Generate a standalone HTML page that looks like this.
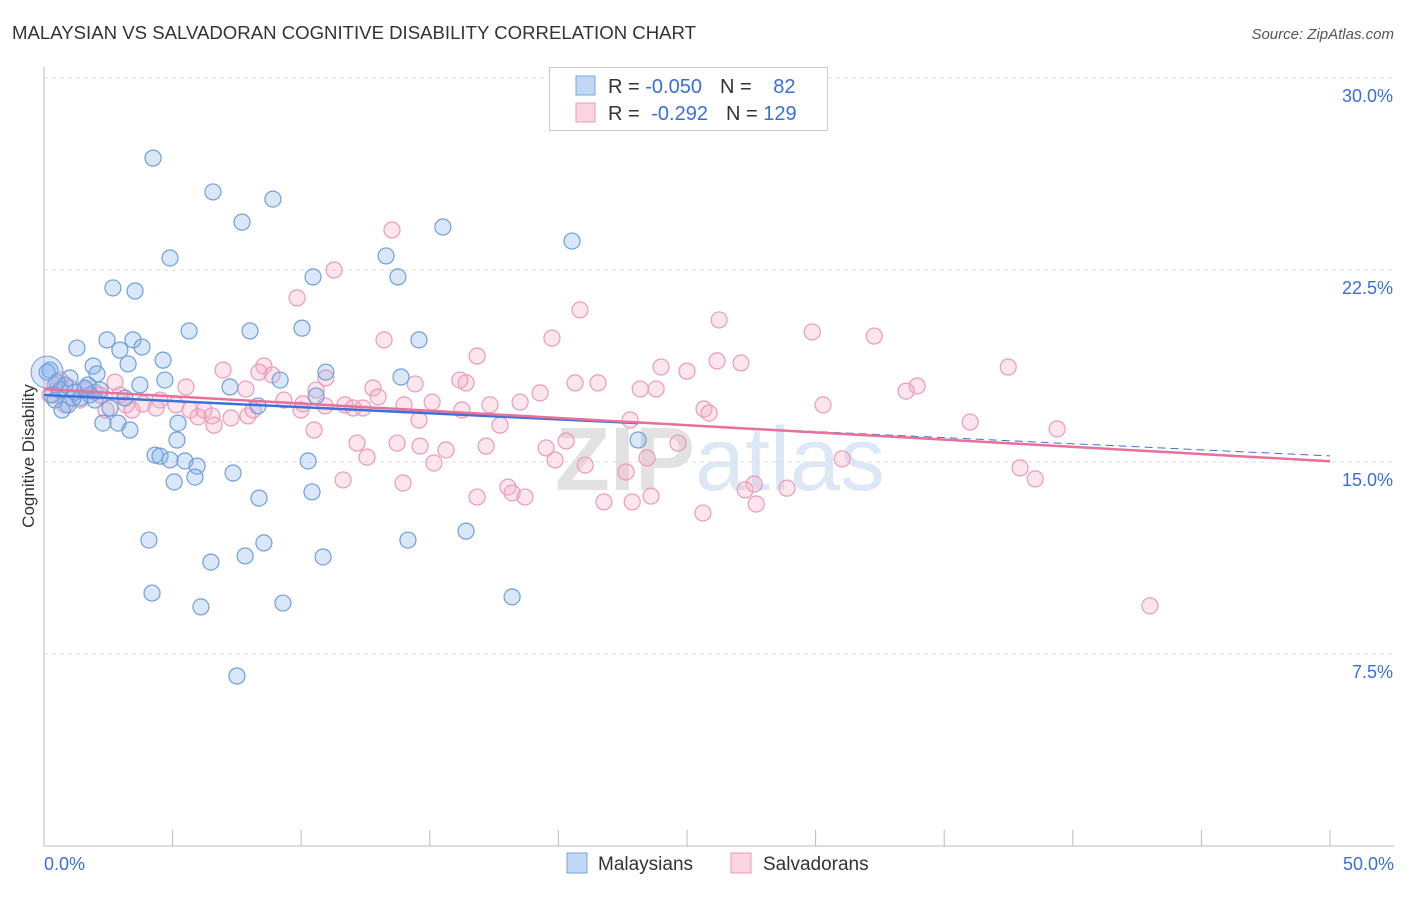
<!DOCTYPE html>
<html><head><meta charset="utf-8">
<style>
body{margin:0;background:#fff;font-family:"Liberation Sans",sans-serif;}
svg text{font-family:"Liberation Sans",sans-serif;}
</style></head>
<body>
<svg id="chart" width="1406" height="892" viewBox="0 0 1406 892">
<text x="12" y="39" font-size="18.6" fill="#333">MALAYSIAN VS SALVADORAN COGNITIVE DISABILITY CORRELATION CHART</text>
<text x="1394" y="39" font-size="15" fill="#555" font-style="italic" text-anchor="end">Source: ZipAtlas.com</text>
<text x="720" y="490" font-size="90" fill="#e8e8e8" text-anchor="middle" font-weight="bold"><tspan fill="#e2e2e2">ZIP</tspan><tspan fill="#dce8f5" font-weight="normal">atlas</tspan></text>
<g id="grid"></g>
<g id="axes"></g>
<g id="pts"></g>
<g id="trends"></g>
<text transform="translate(34,456) rotate(-90)" font-size="17" fill="#333" text-anchor="middle">Cognitive Disability</text>
<g>
<rect x="549.5" y="67.5" width="278" height="63" fill="#fff" stroke="#ccc"/>
<rect x="576" y="76" width="19" height="19" fill="rgba(130,175,235,0.5)" stroke="#7aa5dd"/>
<rect x="576" y="103" width="19" height="19" fill="rgba(245,170,195,0.5)" stroke="#e99ab6"/>
<text x="608" y="93" font-size="20" fill="#333">R = <tspan fill="#3a6fd8">-0.050</tspan><tspan dx="18">N = </tspan><tspan dx="16" fill="#3a6fd8">82</tspan></text>
<text x="608" y="120" font-size="20" fill="#333">R = <tspan dx="6" fill="#3a6fd8">-0.292</tspan><tspan dx="18">N = </tspan><tspan fill="#3a6fd8">129</tspan></text>
</g>
<g>
<rect x="567" y="853" width="20" height="20" fill="rgba(130,175,235,0.5)" stroke="#7aa5dd"/>
<text x="598" y="870" font-size="19" fill="#333">Malaysians</text></g>
<g>
<rect x="731" y="853" width="20" height="20" fill="rgba(245,170,195,0.5)" stroke="#e99ab6"/>
<text x="763" y="870" font-size="19" fill="#333">Salvadorans</text></g>
</svg>
<script>
const yTicks=[7.5,15,22.5,30];
const yTickLabels=["7.5%","15.0%","22.5%","30.0%"];
const xTicks=[0,5,10,15,20,25,30,35,40,45,50];
const xTickLabels=["0.0%","50.0%"];
const blueX=[4.24,6.57,7.70,8.90,15.51,20.53,4.90,13.30,13.76,10.46,2.68,3.54,5.64,8.01,10.03,14.58,2.45,3.46,1.28,2.95,3.81,4.63,1.91,3.27,0.23,10.96,13.88,4.70,2.06,1.01,1.71,3.73,7.23,9.18,10.58,0.62,1.21,1.79,0.43,0.93,1.40,3.15,8.32,0.70,2.57,2.29,2.88,3.34,5.21,5.17,23.10,4.32,4.51,4.90,5.48,5.95,10.27,7.35,5.87,5.06,8.36,10.42,4.08,8.55,7.82,10.85,14.15,16.41,6.49,4.20,6.10,9.29,18.20,7.50,0.12,0.31,0.82,2.18,1.59,1.13,0.51,1.98];
const blueY=[26.87,25.55,24.37,25.27,24.18,23.63,22.97,23.05,22.23,22.23,21.80,21.68,20.12,20.12,20.23,19.77,19.77,19.77,19.45,19.37,19.49,18.98,18.75,18.83,18.59,18.51,18.32,18.20,18.44,18.28,18.01,18.01,17.93,18.20,17.58,17.81,17.73,17.62,17.42,17.23,17.50,17.50,17.19,17.03,17.11,16.52,16.52,16.25,16.52,15.86,15.86,15.27,15.23,15.08,15.04,14.84,15.04,14.57,14.41,14.22,13.59,13.83,11.95,11.84,11.33,11.29,11.95,12.30,11.09,9.88,9.34,9.49,9.73,6.64,18.51,17.62,18.01,17.81,17.89,17.50,18.12,17.42];
const pinkX=[13.53,11.28,9.84,20.84,26.25,29.87,32.28,13.22,19.75,16.84,26.17,27.10,37.49,23.99,25.00,8.55,6.96,8.87,8.36,10.96,16.41,16.17,20.65,21.54,14.43,12.79,23.18,23.80,33.95,33.52,5.52,7.85,10.58,19.29,18.51,17.34,15.09,12.99,14.00,11.70,12.02,12.40,9.33,10.07,9.99,10.93,4.51,5.13,5.68,3.85,4.36,3.19,2.41,3.42,6.22,5.99,6.53,7.27,7.93,6.61,8.13,25.66,25.86,30.29,22.79,16.25,14.58,17.73,36.01,39.39,12.17,13.73,10.50,14.62,15.63,17.19,19.52,20.30,23.45,19.87,12.56,15.16,21.04,22.63,24.65,31.03,37.95,38.54,27.61,27.26,27.69,28.89,18.04,16.84,18.20,18.70,22.87,21.77,23.60,25.62,13.96,11.63,43.00,0.62,1.01,0.23,1.59,1.98,2.76,2.95,1.40,0.82,2.18,0.43];
const pinkY=[24.06,22.50,21.41,20.94,20.55,20.08,19.92,19.77,19.84,19.14,18.95,18.87,18.71,18.71,18.55,18.75,18.59,18.40,18.51,18.28,18.09,18.20,18.09,18.09,18.05,17.89,17.85,17.85,17.97,17.77,17.93,17.85,17.81,17.70,17.34,17.23,17.34,17.54,17.23,17.23,17.11,17.11,17.42,17.27,17.03,17.19,17.42,17.23,17.03,17.27,17.11,17.23,17.03,17.03,17.03,16.76,16.80,16.72,16.80,16.44,17.03,17.07,16.91,17.23,16.64,17.03,16.64,16.44,16.56,16.29,15.74,15.74,16.25,15.62,15.47,15.62,15.55,15.82,15.16,15.08,15.19,14.96,14.88,14.61,15.74,15.12,14.77,14.34,14.14,13.91,13.36,13.98,14.02,13.63,13.79,13.63,13.44,13.44,13.67,13.01,14.18,14.30,9.38,18.20,17.89,17.62,17.81,17.73,18.12,17.62,17.42,17.23,17.62,18.01];

const NS="http://www.w3.org/2000/svg";
const X0=44,X1=1330,YB=846,PXPER=192/7.5;
const sx=v=>X0+(v/50)*(X1-X0);
const sy=v=>YB-v*PXPER;
function mk(tag,attrs,parent){const e=document.createElementNS(NS,tag);for(const k in attrs)e.setAttribute(k,attrs[k]);parent.appendChild(e);return e;}
const grid=document.getElementById('grid'),axes=document.getElementById('axes'),pts=document.getElementById('pts'),tr=document.getElementById('trends');
yTicks.forEach((t,i)=>{
  const l=mk('line',{x1:X0,x2:1394,y1:sy(t),y2:sy(t),stroke:'#ddd','stroke-dasharray':'4,4'},grid);
  
  
  const tx=mk('text',{x:1393,y:sy(t)+24,'font-size':18,fill:'#3a6fd8','text-anchor':'end'},axes);
  tx.textContent=yTickLabels[i];
  
  
});
const ax=mk('line',{x1:X0,x2:X0,y1:67,y2:YB,stroke:'#bbb'},axes);


const bx=mk('line',{x1:X0,x2:1394,y1:YB,y2:YB,stroke:'#bbb'},axes);


xTicks.forEach(t=>{
  const l=mk('line',{x1:sx(t),x2:sx(t),y1:830,y2:YB,stroke:'#bbb'},axes);
  
  
});
const xl0=mk('text',{x:44,y:870,'font-size':18,fill:'#3a6fd8'},axes);xl0.textContent=xTickLabels[0];


const xl1=mk('text',{x:1394,y:870,'font-size':18,fill:'#3a6fd8','text-anchor':'end'},axes);xl1.textContent=xTickLabels[1];



function drawPts(xs,ys,fill,stroke,name){
  xs.forEach((x,i)=>{
    const c=mk('circle',{cx:sx(x),cy:sy(ys[i]),r:8,fill:fill,stroke:stroke,'stroke-width':1.2},pts);
    
    
  });
}
drawPts(pinkX,pinkY,'rgba(245,170,195,0.3)','#eb9ab7','salvadoran-point');
drawPts(blueX,blueY,'rgba(130,175,235,0.3)','#6f9fdc','malaysian-point');
const big=mk('circle',{cx:sx(blueX[74]),cy:sy(blueY[74]),r:16,fill:'rgba(130,175,235,0.3)',stroke:'#6f9fdc'},pts);



function reg(xs,ys){const n=xs.length;let mx=0,my=0;for(let i=0;i<n;i++){mx+=xs[i];my+=ys[i];}mx/=n;my/=n;let a=0,b=0;for(let i=0;i<n;i++){a+=(xs[i]-mx)*(ys[i]-my);b+=(xs[i]-mx)**2;}const s=a/b;return [my-s*mx,s];}
const [bi,bs]=reg(blueX,blueY);
const bmax=Math.max(...blueX);
const t1=mk('line',{x1:sx(0),y1:sy(bi),x2:sx(bmax),y2:sy(bi+bs*bmax),stroke:'#3a73d8','stroke-width':2.5},tr);


const t2=mk('line',{x1:sx(bmax),y1:sy(bi+bs*bmax),x2:sx(50),y2:sy(bi+bs*50),stroke:'#3a73d8','stroke-width':1,'stroke-dasharray':'8,5'},tr);


const [pi,ps]=reg(pinkX,pinkY);
const t3=mk('line',{x1:sx(0),y1:sy(pi),x2:sx(50),y2:sy(pi+ps*50),stroke:'#e8709a','stroke-width':2.5},tr);


</script>
</body></html>
